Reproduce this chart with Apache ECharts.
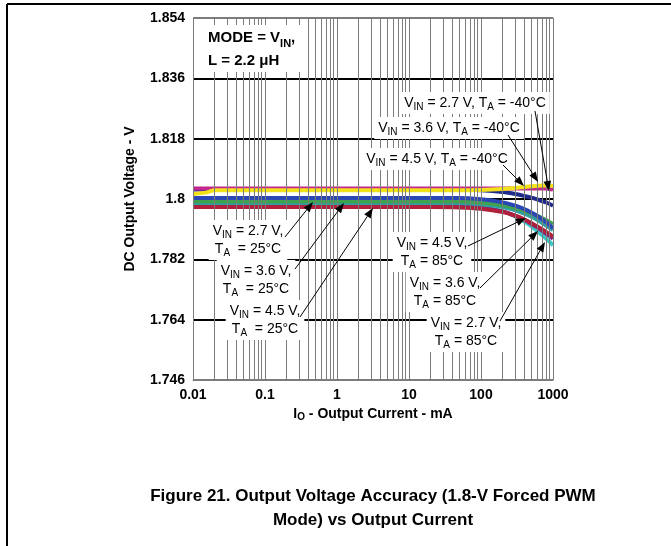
<!DOCTYPE html>
<html><head><meta charset="utf-8">
<script src="https://cdn.jsdelivr.net/npm/echarts@6/dist/echarts.min.js"></script>
<style>html,body{margin:0;padding:0;background:#fff}#c{width:671px;height:546px}</style>
</head><body><div id="c"></div>
<script>
// ---- data ----
const currents = [0.01, 0.015, 0.02, 0.05, 0.1, 0.2, 0.5, 1, 2, 5, 10, 20, 50, 100, 200, 300, 400, 500, 600, 700, 800, 900, 1000];
const v27_m40 = [1.8015, 1.8019, 1.8026, 1.8026, 1.8026, 1.8026, 1.8026, 1.8026, 1.8026, 1.8026, 1.8026, 1.8026, 1.8026, 1.8027, 1.8030, 1.8033, 1.8036, 1.8038, 1.8039, 1.8040, 1.8040, 1.8040, 1.8039];
const v36_m40 = [1.8031, 1.8031, 1.8031, 1.8031, 1.8031, 1.8031, 1.8031, 1.8031, 1.8031, 1.8031, 1.8031, 1.8031, 1.8031, 1.8031, 1.8031, 1.8031, 1.8031, 1.8031, 1.8031, 1.8031, 1.8031, 1.8030, 1.8028];
const v45_m40 = [1.8028, 1.8028, 1.8028, 1.8028, 1.8028, 1.8028, 1.8028, 1.8028, 1.8028, 1.8028, 1.8028, 1.8028, 1.8028, 1.8026, 1.8021, 1.8015, 1.8009, 1.8004, 1.7999, 1.7994, 1.7990, 1.7985, 1.7980];
const v27_25 = [1.8003, 1.8003, 1.8003, 1.8003, 1.8003, 1.8003, 1.8003, 1.8003, 1.8003, 1.8003, 1.8003, 1.8003, 1.8003, 1.7999, 1.7990, 1.7980, 1.7970, 1.7960, 1.7950, 1.7940, 1.7931, 1.7922, 1.7913];
const v36_25 = [1.7993, 1.7993, 1.7993, 1.7993, 1.7993, 1.7993, 1.7993, 1.7993, 1.7993, 1.7993, 1.7993, 1.7993, 1.7993, 1.7989, 1.7982, 1.7973, 1.7965, 1.7957, 1.7950, 1.7943, 1.7937, 1.7931, 1.7925];
const v45_25 = [1.7988, 1.7988, 1.7988, 1.7988, 1.7988, 1.7988, 1.7988, 1.7988, 1.7988, 1.7988, 1.7988, 1.7988, 1.7988, 1.7984, 1.7976, 1.7966, 1.7956, 1.7947, 1.7938, 1.7929, 1.7921, 1.7914, 1.7907];
const v45_85 = [1.7976, 1.7976, 1.7976, 1.7976, 1.7976, 1.7976, 1.7976, 1.7976, 1.7976, 1.7976, 1.7976, 1.7976, 1.7975, 1.7971, 1.7961, 1.7950, 1.7939, 1.7928, 1.7919, 1.7910, 1.7902, 1.7895, 1.7888];
const v36_85 = [1.7979, 1.7979, 1.7979, 1.7979, 1.7979, 1.7979, 1.7979, 1.7979, 1.7979, 1.7979, 1.7979, 1.7979, 1.7979, 1.7974, 1.7963, 1.7950, 1.7938, 1.7926, 1.7916, 1.7906, 1.7897, 1.7889, 1.7882];
const v27_85 = [1.7983, 1.7983, 1.7983, 1.7983, 1.7983, 1.7983, 1.7983, 1.7983, 1.7983, 1.7983, 1.7983, 1.7983, 1.7983, 1.7976, 1.7963, 1.7948, 1.7933, 1.7919, 1.7905, 1.7893, 1.7882, 1.7872, 1.7862];
const xTickLabels = ['0.01', '0.1', '1', '10', '100', '1000'];
const yTickLabels = ['1.746', '1.764', '1.782', '1.8', '1.818', '1.836', '1.854'];

// ---- chart ----
const F = '"Liberation Sans", Arial, Helvetica, sans-serif';
const chart = echarts.init(document.getElementById('c'), null, {renderer: 'canvas'});

const seriesDefs = [
  {name: '4.5V -40C', data: v45_m40, color: '#1f2a8a'},
  {name: '3.6V -40C', data: v36_m40, color: '#c2268f'},
  {name: '2.7V -40C', data: v27_m40, color: '#f2e21a'},
  {name: '2.7V 85C', data: v27_85, color: '#3cc7c7'},
  {name: '3.6V 85C', data: v36_85, color: '#7a2a8c'},
  {name: '4.5V 85C', data: v45_85, color: '#b0203a'},
  {name: '4.5V 25C', data: v45_25, color: '#2f9fa0'},
  {name: '3.6V 25C', data: v36_25, color: '#3fa34d'},
  {name: '2.7V 25C', data: v27_25, color: '#2b47b5'}
];

// vertical log grid lines (decades and 2..9 subdivisions)
const vLines = [];
for (let e = -2; e <= 2; e++) {
  for (let m = 1; m <= 9; m++) vLines.push(+(m * Math.pow(10, e)).toPrecision(3));
}
vLines.push(1000);

const series = seriesDefs.map(s => ({
  name: s.name, type: 'line', showSymbol: false, smooth: 0.25,
  data: currents.map((c, i) => [c, s.data[i]]),
  lineStyle: {color: s.color, width: 4}, itemStyle: {color: s.color},
  z: 2, silent: true
}));
series.push({
  name: 'grid', type: 'line', data: [], z: 3, silent: true,
  markLine: {
    silent: true, symbol: ['none', 'none'], label: {show: false},
    lineStyle: {color: '#7c7c7c', width: 1, type: 'solid'},
    emphasis: {disabled: true},
    data: vLines.map(v => ({xAxis: v}))
  }
});

const rich = {
  a: {fontSize: 14, fontFamily: F, fill: '#000', lineHeight: 18},
  s: {fontSize: 10, fontFamily: F, fill: '#000', lineHeight: 10, verticalAlign: 'bottom'}
};
const richB = {
  a: {fontSize: 15, fontFamily: F, fontWeight: 'bold', fill: '#000', lineHeight: 23},
  s: {fontSize: 11, fontFamily: F, fontWeight: 'bold', fill: '#000', lineHeight: 11, verticalAlign: 'bottom'}
};
function label(x, y, text) {
  return {type: 'text', z: 101, x: x, y: y,
    style: {text: text, rich: rich, align: 'center', verticalAlign: 'middle',
      backgroundColor: '#fff', padding: [2, 4, 2, 4], fill: '#000', fontSize: 14, fontFamily: F}};
}
function arrow(x1, y1, x2, y2) {
  const dx = x2 - x1, dy = y2 - y1, L = Math.hypot(dx, dy), ux = dx / L, uy = dy / L;
  const hl = 10, hw = 3.8;
  const bx = x2 - ux * hl, by = y2 - uy * hl;
  return [
    {type: 'line', z: 102, shape: {x1: x1, y1: y1, x2: bx, y2: by}, style: {stroke: '#000', lineWidth: 1}},
    {type: 'polygon', z: 102, shape: {points: [[x2, y2], [bx - uy * hw, by + ux * hw], [bx + uy * hw, by - ux * hw]]}, style: {fill: '#000'}}
  ];
}
const L25 = (v) => '{a|V}{s|IN}{a| = ' + v + ' V,}\n{a|T}{s|A}{a|  = 25°C}';
const L85 = (v) => '{a|V}{s|IN}{a| = ' + v + ' V,}\n{a|T}{s|A}{a| = 85°C}';
const Lm40 = (v) => '{a|V}{s|IN}{a| = ' + v + ' V, T}{s|A}{a| = -40°C}';

const graphics = [
  {type: 'line', z: 100, shape: {x1: 7, y1: 4, x2: 671, y2: 4}, style: {stroke: '#000', lineWidth: 2}},
  {type: 'line', z: 100, shape: {x1: 7, y1: 4, x2: 7, y2: 546}, style: {stroke: '#000', lineWidth: 2}},
  {type: 'text', z: 101, x: 197, y: 25,
    style: {text: '{a|MODE = V}{s|IN}{a|,}\n{a|L = 2.2 μH}', rich: richB, align: 'left', verticalAlign: 'top',
      backgroundColor: '#fff', padding: [1, 9, 0, 11], fill: '#000', fontSize: 15, fontFamily: F, fontWeight: 'bold'}},
  label(475, 103, Lm40('2.7')),
  label(449, 128, Lm40('3.6')),
  label(437, 159, Lm40('4.5')),
  label(248, 240, L25('2.7')),
  label(256, 280, L25('3.6')),
  label(265, 320, L25('4.5')),
  label(432, 252, L85('4.5')),
  label(445, 292, L85('3.6')),
  label(466, 332, L85('2.7')),
  ...arrow(535, 111, 549, 191),
  ...arrow(508, 135, 538, 182),
  ...arrow(503, 165, 524, 186),
  ...arrow(285, 237, 313, 202),
  ...arrow(295, 269, 344, 203),
  ...arrow(300, 317, 373, 208),
  ...arrow(468, 246, 526, 218),
  ...arrow(480, 288, 538, 231),
  ...arrow(500, 321, 545, 242),
  {type: 'text', z: 101, x: 373, y: 496,
    style: {text: 'Figure 21. Output Voltage Accuracy (1.8-V Forced PWM', align: 'center', verticalAlign: 'middle',
      fill: '#000', fontSize: 17, fontFamily: F, fontWeight: 'bold'}},
  {type: 'text', z: 101, x: 373, y: 520,
    style: {text: 'Mode) vs Output Current', align: 'center', verticalAlign: 'middle',
      fill: '#000', fontSize: 17, fontFamily: F, fontWeight: 'bold'}}
];

chart.setOption({
  animation: false,
  backgroundColor: '#fff',
  grid: {left: 193, top: 18, width: 360, height: 362, containLabel: false},
  xAxis: {
    type: 'log', logBase: 10, min: 0.01, max: 1000,
    axisLine: {show: true, lineStyle: {color: '#7c7c7c', width: 1}},
    axisTick: {show: false},
    splitLine: {show: false},
    axisLabel: {margin: 8, color: '#000', fontFamily: F, fontWeight: 'bold', fontSize: 14,
      formatter: (v) => xTickLabels[Math.round(Math.log10(v)) + 2]},
    name: '{a|I}{s|O}{a| - Output Current - mA}',
    nameLocation: 'middle', nameGap: 24,
    nameTextStyle: {rich: {
      a: {fontFamily: F, fontWeight: 'bold', fontSize: 14, color: '#000', lineHeight: 16},
      s: {fontFamily: F, fontWeight: 'bold', fontSize: 10, color: '#000', lineHeight: 10, verticalAlign: 'bottom'}
    }}
  },
  yAxis: {
    type: 'value', min: 1.746, max: 1.854, interval: 0.018,
    axisLine: {show: true, lineStyle: {color: '#7c7c7c', width: 1}},
    axisTick: {show: false},
    splitLine: {show: true, lineStyle: {color: ['#7c7c7c', '#000', '#000', '#000', '#000', '#000', '#7c7c7c'], width: 2}},
    axisLabel: {margin: 8, color: '#000', fontFamily: F, fontWeight: 'bold', fontSize: 14,
      formatter: (v, i) => yTickLabels[i]},
    name: 'DC Output Voltage - V', nameLocation: 'middle', nameGap: 56,
    nameTextStyle: {fontFamily: F, fontWeight: 'bold', fontSize: 14, color: '#000'}
  },
  series: series,
  graphic: {elements: graphics}
});
</script>
</body></html>
